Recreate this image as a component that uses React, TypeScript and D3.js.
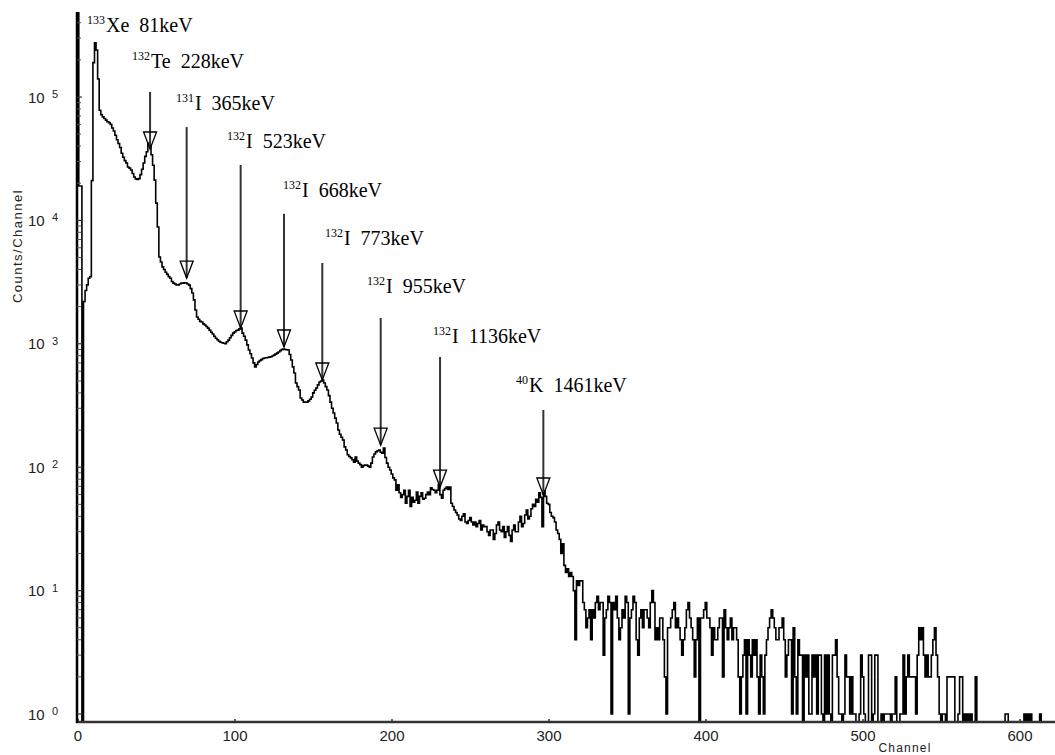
import React, { FC, useEffect, useRef } from "react"
import { curveStep, line, scaleLinear, scaleLog, select } from "d3"

// counts per channel, channel 0..615 (0 = empty channel, drawn on the axis)
const counts: number[] = [
  900000, 19000, 19000, 0, 2200, 2700, 3000, 3400, 3500, 21000, // 0
  190000, 275000, 240000, 140000, 78000, 72000, 69000, 67000, 65000, 63000, // 10
  62000, 60000, 56000, 53000, 49000, 45000, 42000, 39000, 35000, 32500, // 20
  30500, 29200, 27100, 26500, 25600, 24000, 22500, 21700, 21500, 21800, // 30
  23500, 26000, 29200, 33000, 36000, 42400, 40500, 34000, 28000, 21200, // 40
  13800, 8850, 5050, 4600, 4200, 4000, 3800, 3650, 3500, 3400, // 50
  3200, 3100, 3050, 3000, 3000, 3050, 3100, 3100, 3120, 3110, // 60
  3050, 2990, 2800, 2580, 2270, 1880, 1650, 1580, 1520, 1500, // 70
  1450, 1420, 1380, 1340, 1290, 1240, 1200, 1150, 1110, 1080, // 80
  1050, 1030, 1020, 1010, 1000, 1040, 1070, 1120, 1170, 1220, // 90
  1250, 1280, 1290, 1320, 1340, 1220, 1150, 1070, 980, 891, // 100
  830, 767, 700, 649, 680, 713, 730, 745, 760, 767, // 110
  770, 775, 780, 785, 796, 810, 825, 840, 859, 880, // 120
  900, 908, 900, 895, 891, 820, 740, 650, 580, 481, // 130
  450, 422, 364, 350, 337, 337, 337, 345, 355, 371, // 140
  400, 420, 438, 465, 490, 500, 509, 481, 450, 422, // 150
  380, 337, 300, 275, 250, 228, 200, 185, 175, 166, // 160
  146, 138, 126, 122, 119, 115, 110, 121, 112, 108, // 170
  105, 100, 103, 104, 104, 102, 100, 108, 121, 128, // 180
  133, 136, 138, 132, 130, 143, 120, 108, 100, 95, // 190
  88, 82, 79, 65, 72, 62, 57, 60, 65, 51, // 200
  58, 65, 48, 57, 52, 54, 63, 51, 58, 62, // 210
  55, 56, 60, 63, 60, 68, 66, 65, 62, 65, // 220
  72, 60, 56, 65, 67, 69, 66, 69, 51, 48, // 230
  45, 43, 41, 38, 37, 40, 42, 36, 35, 37, // 240
  39, 36, 34, 36, 33, 35, 37, 31, 34, 33, // 250
  33, 30, 28, 31, 31, 26, 29, 34, 36, 31, // 260
  30, 33, 27, 30, 33, 28, 25, 31, 34, 30, // 270
  30, 36, 40, 33, 35, 41, 45, 38, 40, 46, // 280
  50, 48, 55, 52, 62, 57, 33, 64, 58, 51, // 290
  50, 43, 40, 39, 36, 31, 29, 26, 20, 24, // 300
  16, 14, 15, 13, 14, 13, 10, 4, 12, 11, // 310
  12, 12, 8, 7, 5, 6, 7, 4, 7, 6, // 320
  8, 9, 7, 8, 8, 3, 6, 7, 9, 8, // 330
  1, 8, 7, 9, 6, 4, 5, 7, 6, 9, // 340
  8, 1, 6, 7, 9, 8, 4, 3, 6, 7, // 350
  5, 7, 7, 6, 5, 8, 10, 8, 4, 5, // 360
  4, 6, 6, 4, 2, 1, 5, 5, 6, 7, // 370
  8, 5, 6, 5, 4, 3, 4, 5, 7, 8, // 380
  6, 5, 4, 2, 4, 6, 0, 6, 6, 7, // 390
  8, 6, 6, 5, 3, 5, 4, 4, 5, 6, // 400
  6, 2, 7, 5, 4, 5, 6, 4, 5, 5, // 410
  4, 2, 1, 2, 3, 4, 1, 4, 3, 2, // 420
  4, 3, 4, 2, 1, 3, 2, 1, 3, 4, // 430
  5, 6, 7, 6, 5, 4, 4, 5, 5, 6, // 440
  4, 2, 3, 4, 4, 1, 5, 2, 1, 4, // 450
  3, 3, 0, 3, 2, 3, 1, 1, 3, 2, // 460
  3, 1, 3, 3, 1, 0, 3, 1, 3, 1, // 470
  0, 3, 3, 4, 2, 1, 1, 0, 1, 3, // 480
  2, 2, 1, 2, 1, 1, 0, 0, 1, 3, // 490
  2, 1, 0, 0, 3, 3, 0, 1, 3, 3, // 500
  0, 0, 1, 0, 1, 1, 1, 1, 0, 1, // 510
  1, 2, 0, 0, 1, 1, 3, 1, 2, 3, // 520
  2, 2, 2, 2, 1, 3, 5, 4, 5, 3, // 530
  2, 3, 2, 2, 3, 4, 5, 3, 2, 1, // 540
  0, 1, 1, 0, 2, 2, 2, 2, 2, 0, // 550
  0, 1, 2, 2, 0, 1, 0, 1, 0, 1, // 560
  0, 0, 2, 0, 0, 0, 0, 0, 0, 0, // 570
  0, 0, 0, 0, 0, 0, 0, 0, 0, 0, // 580
  0, 1, 1, 0, 0, 0, 0, 0, 0, 0, // 590
  0, 0, 0, 1, 0, 1, 0, 1, 0, 0, // 600
  0, 0, 0, 1, 0, 0, // 610
]

const xTicks = [0, 100, 200, 300, 400, 500, 600]
const yExponents = [0, 1, 2, 3, 4, 5]

// peak labels: mass number, element, energy, label anchor (channel, counts)
const labelMass = ["133", "132", "131", "132", "132", "132", "132", "132", "40"]
const labelElement = ["Xe", "Te", "I", "I", "I", "I", "I", "I", "K"]
const labelEnergy = ["81keV", "228keV", "365keV", "523keV", "668keV", "773keV", "955keV", "1136keV", "1461keV"]
const labelChannel = [5.7, 34.4, 62.4, 94.9, 130.6, 157.3, 184.1, 226.1, 279]
const labelCounts = [336000, 172000, 78500, 38600, 15500, 6320, 2580, 1010, 407]

// arrows (Xe peak has none)
const arrowChannel = [45.9, 69.2, 103.6, 131.2, 155.6, 192.8, 230.6, 296.4]
const arrowTopCounts = [110000, 57100, 28100, 11300, 4520, 1620, 782, 291]
const arrowTipCounts = [37900, 3410, 1343, 942, 509, 151, 69, 59.5]

const SpectrumChart: FC = () => {
  const svgRef = useRef<SVGSVGElement>(null)

  useEffect(() => {
    const element = svgRef.current
    if (!element) return
    const svg = select(element)
    svg.selectAll("*").remove()

    // 1. dimensions
    const width = 1055
    const yTop = 12
    const yZero = 722
    const axisX = 77

    // 2. scales
    const xScale = scaleLinear().domain([0, 600]).range([78, 1020])
    const yScale = scaleLog().domain([1, 1e5]).range([714, 97])
    const yPos = (v: number) => (v > 0 ? yScale(v) : yZero)

    const sans = '"Liberation Sans", Arial, sans-serif'
    const serif = '"Liberation Serif", "DejaVu Serif", serif'

    svg
      .append("defs")
      .append("clipPath")
      .attr("id", "plot-clip")
      .append("rect")
      .attr("x", axisX)
      .attr("y", yTop)
      .attr("width", width - axisX)
      .attr("height", yZero - yTop + 2)

    // 3. spectrum
    const spectrum = line<number>()
      .x((_, i) => xScale(i))
      .y((d) => yPos(d))
      .curve(curveStep)

    svg
      .append("path")
      .attr("d", spectrum(counts) ?? "")
      .attr("clip-path", "url(#plot-clip)")
      .attr("fill", "none")
      .attr("stroke", "#000")
      .attr("stroke-width", 1.6)

    // 4. axes
    const xAxis = svg.append("g")
    xAxis
      .append("line")
      .attr("x1", axisX - 1)
      .attr("x2", width)
      .attr("y1", yZero)
      .attr("y2", yZero)
      .attr("stroke", "#333")
      .attr("stroke-width", 2.4)
    xTicks.forEach((t) => {
      xAxis
        .append("line")
        .attr("x1", xScale(t))
        .attr("x2", xScale(t))
        .attr("y1", yZero)
        .attr("y2", yZero - 3)
        .attr("stroke", "#333")
        .attr("stroke-width", 1.5)
      xAxis
        .append("text")
        .attr("x", xScale(t))
        .attr("y", 741)
        .attr("text-anchor", "middle")
        .attr("font-family", sans)
        .attr("font-size", 15)
        .attr("fill", "#222")
        .text(t)
    })
    xAxis
      .append("text")
      .attr("x", 905)
      .attr("y", 751.5)
      .attr("text-anchor", "middle")
      .attr("font-family", sans)
      .attr("font-size", 12)
      .attr("letter-spacing", 1.2)
      .attr("fill", "#222")
      .text("Channel")

    const yAxis = svg.append("g")
    yAxis
      .append("line")
      .attr("x1", axisX)
      .attr("x2", axisX)
      .attr("y1", yTop)
      .attr("y2", yZero + 1)
      .attr("stroke", "#000")
      .attr("stroke-width", 2.5)

    yExponents.forEach((e) => {
      const y = yScale(10 ** e)
      yAxis
        .append("line")
        .attr("x1", axisX)
        .attr("x2", axisX + 5)
        .attr("y1", y)
        .attr("y2", y)
        .attr("stroke", "#333")
        .attr("stroke-width", 1.2)
      for (let m = 2; m <= 9; m++) {
        const ym = yScale(m * 10 ** e)
        if (ym < yTop) continue
        yAxis
          .append("line")
          .attr("x1", axisX)
          .attr("x2", axisX + 4)
          .attr("y1", ym)
          .attr("y2", ym)
          .attr("stroke", "#555")
          .attr("stroke-width", 1)
      }
      yAxis
        .append("text")
        .attr("x", 28)
        .attr("y", y + 5.5)
        .attr("font-family", sans)
        .attr("font-size", 15)
        .attr("fill", "#222")
        .text("10")
      yAxis
        .append("text")
        .attr("x", 52)
        .attr("y", y + 1)
        .attr("font-family", sans)
        .attr("font-size", 11)
        .attr("fill", "#222")
        .text(e)
    })

    yAxis
      .append("text")
      .attr("transform", "translate(22, 246) rotate(-90)")
      .attr("text-anchor", "middle")
      .attr("font-family", sans)
      .attr("font-size", 13)
      .attr("letter-spacing", 1.5)
      .attr("fill", "#222")
      .text("Counts/Channel")

    // 5. arrows
    const arrows = svg.append("g")
    arrowChannel.forEach((ch, i) => {
      const x = xScale(ch)
      const tip = yScale(arrowTipCounts[i])
      arrows
        .append("line")
        .attr("x1", x)
        .attr("x2", x)
        .attr("y1", yScale(arrowTopCounts[i]))
        .attr("y2", tip)
        .attr("stroke", "#333")
        .attr("stroke-width", 2)
      arrows
        .append("path")
        .attr("d", `M${x - 6.5},${tip - 17}L${x + 6.5},${tip - 17}L${x},${tip}Z`)
        .attr("fill", "none")
        .attr("stroke", "#000")
        .attr("stroke-width", 1.3)
    })

    // 6. peak labels
    const labels = svg.append("g").attr("font-family", serif).attr("fill", "#000")
    labelMass.forEach((mass, i) => {
      const text = labels
        .append("text")
        .attr("x", xScale(labelChannel[i]))
        .attr("y", yScale(labelCounts[i]))
        .style("white-space", "pre")
      text.append("tspan").attr("font-size", 12).attr("dy", -8).text(mass)
      text
        .append("tspan")
        .attr("font-size", 20)
        .attr("dy", 8)
        .attr("dx", 1)
        .text(`${labelElement[i]}  ${labelEnergy[i]}`)
    })
  }, [])

  return (
    <svg
      ref={svgRef}
      width={1055}
      height={755}
      style={{ position: "absolute", left: 0, top: 0, display: "block", background: "#fff" }}
    />
  )
}

export default SpectrumChart
